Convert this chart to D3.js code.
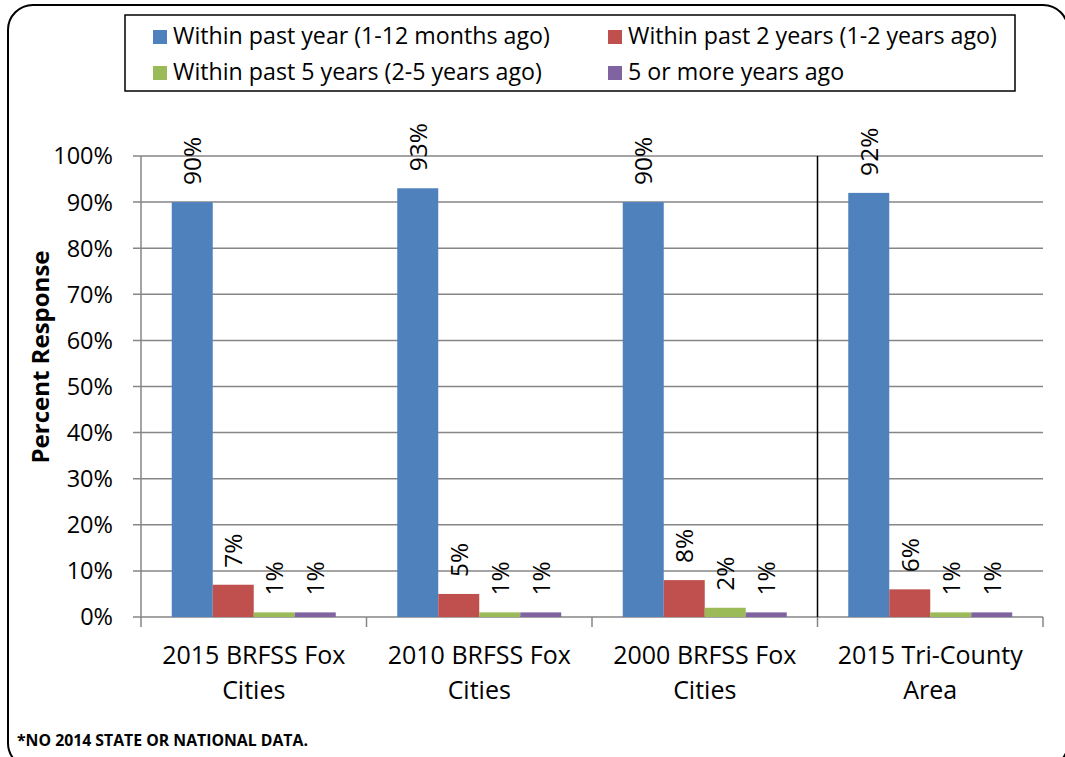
<!DOCTYPE html>
<html><head><meta charset="utf-8">
<script src="https://cdn.jsdelivr.net/npm/d3@7"></script>
<style>html,body{margin:0;padding:0;background:#fff;}svg{display:block;}text{font-family:"Open Sans","Liberation Sans",sans-serif;fill:#000;}</style>
</head><body>
<svg id="chart" width="1065" height="757"></svg>
<script>
const categories = ["2015 BRFSS Fox Cities", "2010 BRFSS Fox Cities", "2000 BRFSS Fox Cities", "2015 Tri-County Area"];
const categoryLines = [["2015 BRFSS Fox", "Cities"], ["2010 BRFSS Fox", "Cities"], ["2000 BRFSS Fox", "Cities"], ["2015 Tri-County", "Area"]];
const seriesNames = ["Within past year (1-12 months ago)", "Within past 2 years (1-2 years ago)", "Within past 5 years (2-5 years ago)", "5 or more years ago"];
const withinPastYear = [90, 93, 90, 92];
const withinPast2Years = [7, 5, 8, 6];
const withinPast5Years = [1, 1, 2, 1];
const fiveOrMoreYears = [1, 1, 1, 1];
const yTicks = [0, 10, 20, 30, 40, 50, 60, 70, 80, 90, 100];
const colors = ["#4F81BD", "#C0504D", "#9BBB59", "#8064A2"];

const seriesValues = [withinPastYear, withinPast2Years, withinPast5Years, fiveOrMoreYears];
const svg = d3.select("#chart");

// outer rounded border
svg.append("rect").attr("x", 8).attr("y", 5).attr("width", 1060).attr("height", 763)
  .attr("rx", 25).attr("ry", 25).attr("fill", "none").attr("stroke", "#000").attr("stroke-width", 2);

const pLeft = 141, pRight = 1043, pTop = 156, pBottom = 617;
const x0 = d3.scaleBand().domain(categories).range([pLeft, pRight]).paddingInner(0).paddingOuter(0);
const x1 = d3.scaleBand().domain(d3.range(4)).range([0, x0.bandwidth()]).paddingInner(0).paddingOuter(0.75);
const y = d3.scaleLinear().domain([0, 100]).range([pBottom, pTop]);
const grid = "#868686";

// gridlines
svg.append("g").selectAll("line").data(yTicks).join("line")
  .attr("x1", pLeft - 8).attr("x2", pRight).attr("y1", d => y(d)).attr("y2", d => y(d))
  .attr("stroke", grid).attr("stroke-width", 1.5);

// y axis line
svg.append("line").attr("x1", pLeft).attr("x2", pLeft).attr("y1", pTop).attr("y2", pBottom + 10)
  .attr("stroke", grid).attr("stroke-width", 1.5);
// category tick marks
const boundaries = categories.map(c => x0(c)).concat([pRight]);
svg.append("g").selectAll("line").data(boundaries.slice(1)).join("line")
  .attr("x1", d => d).attr("x2", d => d).attr("y1", pBottom).attr("y2", pBottom + 10)
  .attr("stroke", grid).attr("stroke-width", 1.5);

// y tick labels
svg.append("g").selectAll("text").data(yTicks).join("text")
  .attr("x", 113).attr("y", d => y(d)).attr("dy", "0.36em").attr("text-anchor", "end")
  .style("font-size", "23.5px").text(d => d + "%");

// bars
const groups = svg.append("g").selectAll("g").data(categories).join("g")
  .attr("transform", c => `translate(${x0(c)},0)`);
groups.each(function(c, ci) {
  const g = d3.select(this);
  seriesValues.forEach((vals, si) => {
    const v = vals[ci];
    g.append("rect").attr("x", x1(si)).attr("width", x1.bandwidth())
      .attr("y", y(v)).attr("height", pBottom - y(v)).attr("fill", colors[si]);
    const cx = x1(si) + x1.bandwidth() / 2;
    g.append("text").attr("transform", `translate(${cx},${y(v) - 17}) rotate(-90)`)
      .attr("dy", "0.36em").attr("text-anchor", "start").style("font-size", "24.5px").text(v + "%");
  });
});

// separator line before last category
svg.append("line").attr("x1", x0(categories[3])).attr("x2", x0(categories[3]))
  .attr("y1", pTop).attr("y2", pBottom).attr("stroke", "#000").attr("stroke-width", 1.5);

// category labels
categories.forEach((c, i) => {
  const cx = x0(c) + x0.bandwidth() / 2;
  svg.append("text").attr("x", cx).attr("y", 664).attr("text-anchor", "middle")
    .style("font-size", "25px").text(categoryLines[i][0]);
  svg.append("text").attr("x", cx).attr("y", 699).attr("text-anchor", "middle")
    .style("font-size", "25px").text(categoryLines[i][1]);
});

// y title
svg.append("text").attr("transform", "translate(49,357) rotate(-90)").attr("text-anchor", "middle")
  .style("font-size", "24px").style("font-weight", "bold").text("Percent Response");

// legend
svg.append("rect").attr("x", 125).attr("y", 15).attr("width", 890).attr("height", 76)
  .attr("fill", "#fff").attr("stroke", "#000").attr("stroke-width", 1.5);
const legPos = [[153, 30], [608, 30], [153, 66], [608, 66]];
seriesNames.forEach((n, i) => {
  svg.append("rect").attr("x", legPos[i][0]).attr("y", legPos[i][1]).attr("width", 14).attr("height", 14).attr("fill", colors[i]);
  svg.append("text").attr("x", legPos[i][0] + 20).attr("y", legPos[i][1] + 14).style("font-size", "23.2px").text(n);
});

// footnote
svg.append("text").attr("x", 17).attr("y", 746).style("font-size", "15.8px").style("font-weight", "bold")
  .text("*NO 2014 STATE OR NATIONAL DATA.");
</script>
</body></html>
